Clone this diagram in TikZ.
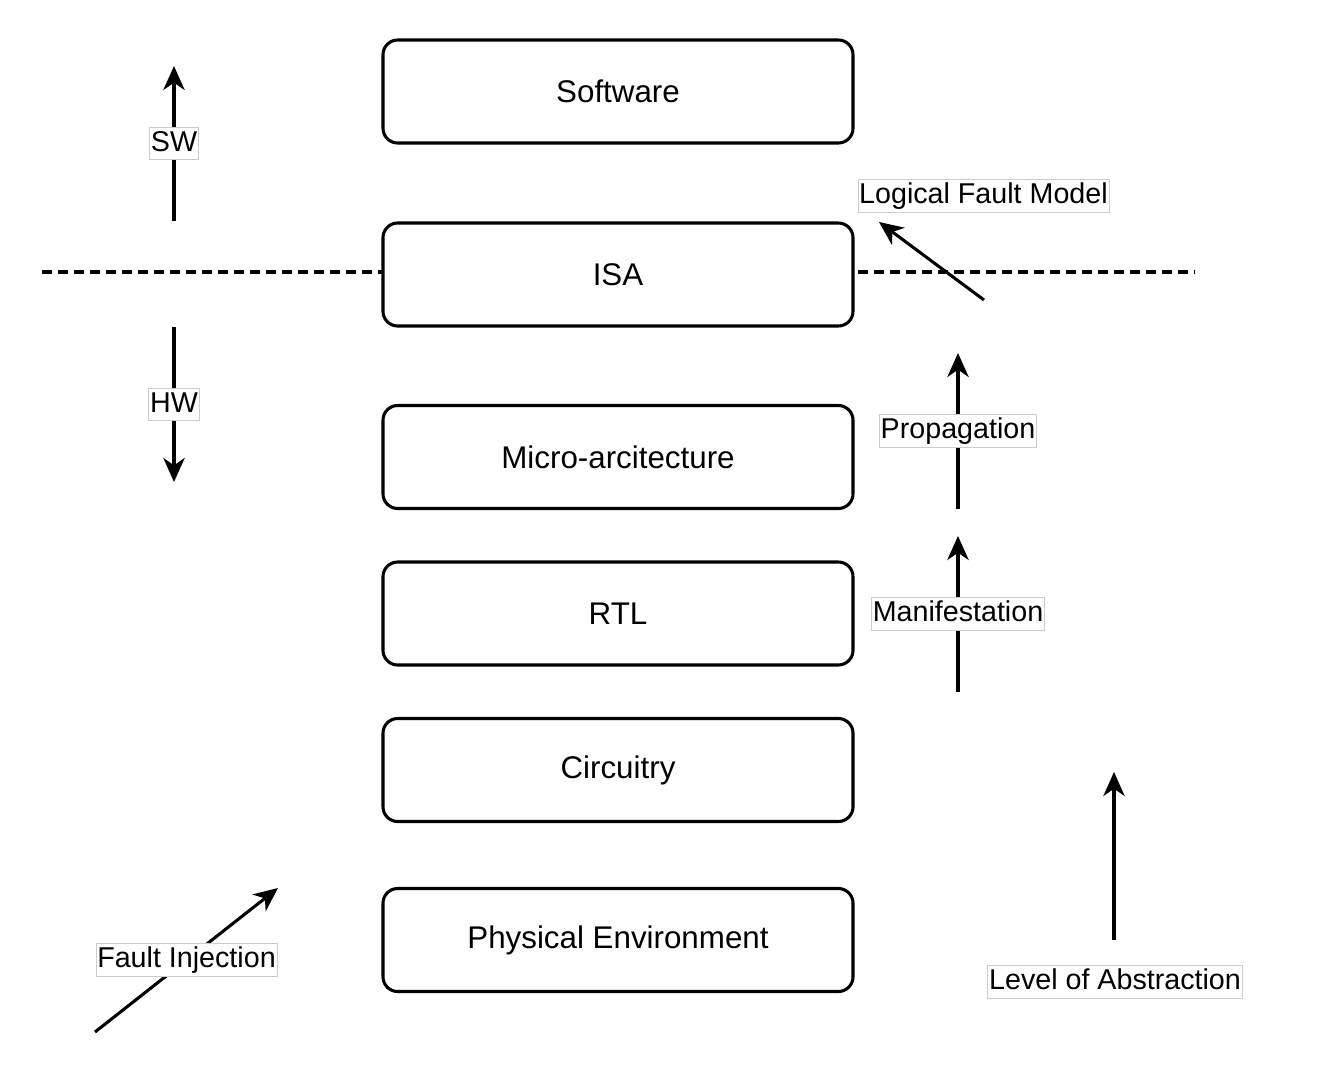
\documentclass[tikz,border=0pt]{standalone}
\usepackage{fontspec}
\setmainfont{Liberation Sans}
\usetikzlibrary{arrows.meta}
\begin{document}
\begin{tikzpicture}[x=0.75pt,y=-0.75pt,
  layerbox/.style={draw=black, line width=2.3pt, fill=white, rounded corners=11pt,
    minimum width=352.5pt, minimum height=77.25pt, font=\fontsize{23.5}{28}\selectfont, inner sep=0pt},
  lbl/.style={draw=black!20, line width=0.5pt, fill=white, font=\fontsize{21.5}{25}\selectfont,
    inner xsep=1pt, inner ysep=2pt, text height=15.8pt, text depth=4.5pt},
  arr/.style={line width=2.3pt, -{Stealth[length=18pt, width=16pt, inset=5.5pt]}},
  sep/.style={line width=2.3pt, dash pattern=on 7.5pt off 4.5pt}
]
\useasboundingbox (0,0) rectangle (1317,1067);
% separator line
\coordinate (dl) at (42,272);
\coordinate (dr) at (1195,272);
\draw[sep] (dl) -- (dr);
% layers
\node[layerbox] (sw)   at (618,91.5)  {Software};
\node[layerbox] (isa)  at (618,274.5) {ISA};
\node[layerbox] (uarch) at (618,457)  {Micro-arcitecture};
\node[layerbox] (rtl)  at (618,613.5) {RTL};
\node[layerbox] (circ) at (618,770)   {Circuitry};
\node[layerbox] (phys) at (618,940)   {Physical Environment};
% SW / HW
\coordinate (swa) at (174,221);
\coordinate (swb) at (174,66);
\draw[arr] (swa) -- node[lbl] (swl) {SW} (swb);
\coordinate (hwa) at (174,327);
\coordinate (hwb) at (174,482);
\draw[arr] (hwa) -- node[lbl] (hwl) {HW} (hwb);
% Logical fault model
\node[lbl] (lfm) at (983.5,196) {Logical Fault Model};
\coordinate (lfa) at (984,300);
\coordinate (lfb) at (879,222);
\draw[arr] (lfa) -- (lfb);
% propagation
\coordinate (pa) at (958,509);
\coordinate (pb) at (958,353);
\draw[arr] (pa) -- node[lbl] (pl) {Propagation} (pb);
% manifestation
\coordinate (ma) at (958,692);
\coordinate (mb) at (958,536);
\draw[arr] (ma) -- node[lbl] (ml) {Manifestation} (mb);
% level of abstraction
\coordinate (la) at (1114,940);
\coordinate (lb) at (1114,772);
\draw[arr] (la) -- (lb);
\node[lbl] (lol) at (1115,982) {Level of Abstraction};
% fault injection
\coordinate (fa) at (95,1032);
\coordinate (fb) at (278,888);
\draw[arr] (fa) -- node[lbl] (fil) {Fault Injection} (fb);
\end{tikzpicture}
\end{document}
